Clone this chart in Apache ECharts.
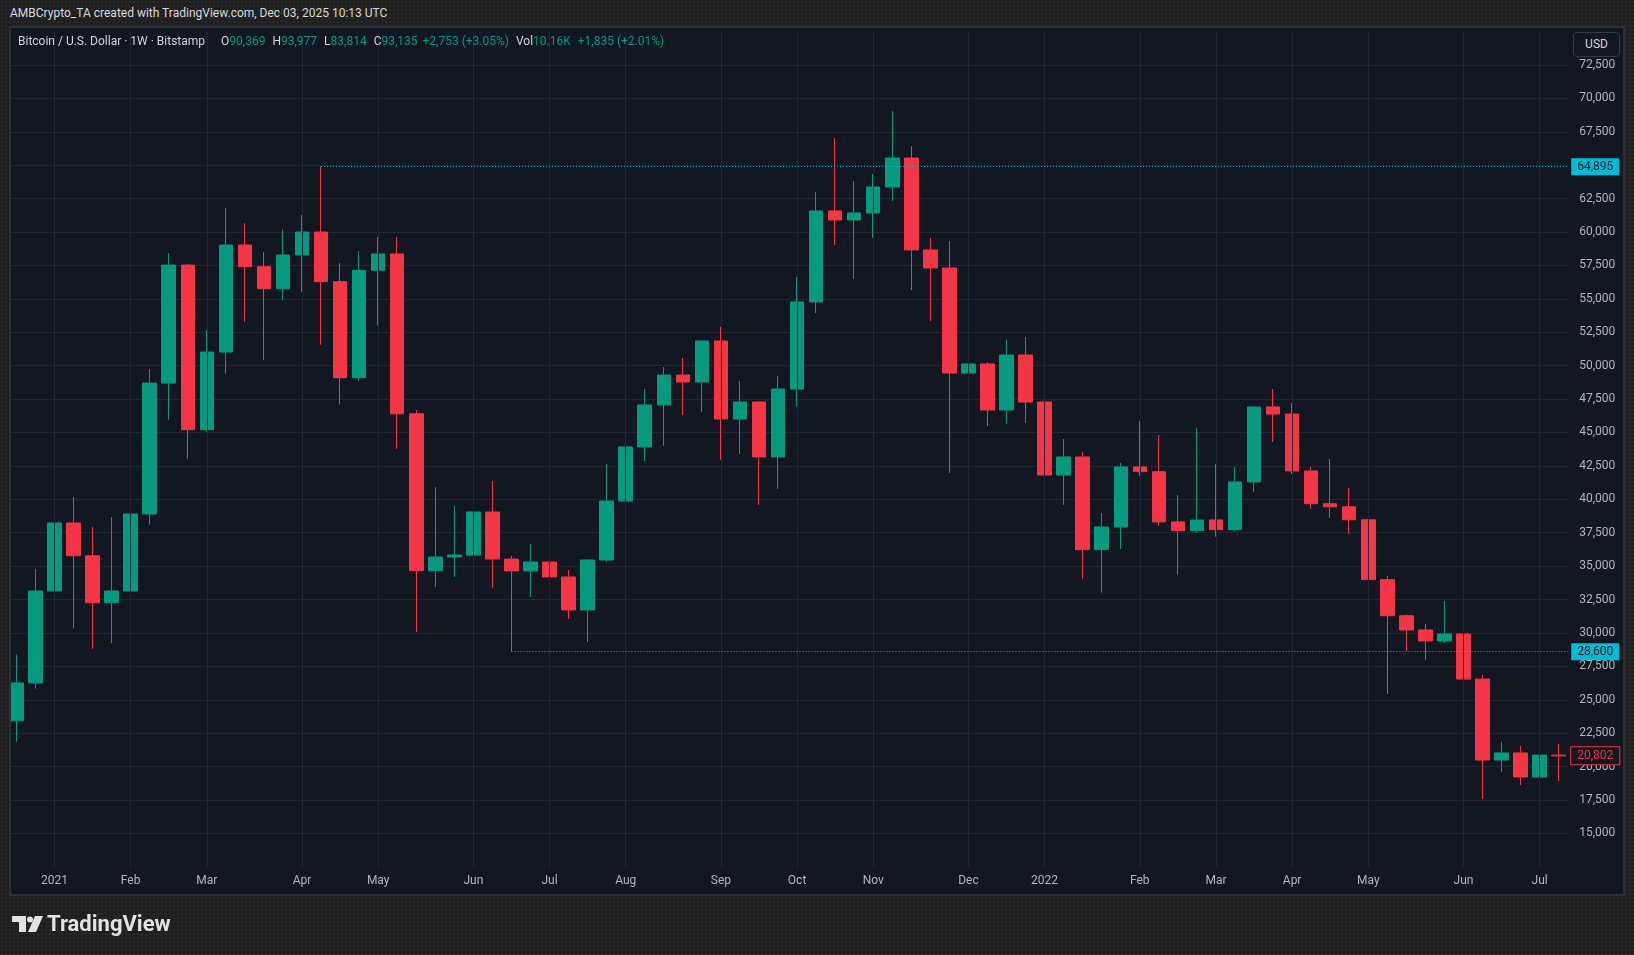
<!DOCTYPE html>
<html>
<head>
<meta charset="utf-8">
<script src="https://cdn.jsdelivr.net/npm/echarts@6/dist/echarts.min.js"></script>
<style>
  body {
    margin: 0; width: 1634px; height: 955px; overflow: hidden; position: relative;
    background-color: #1f1f1f;
    background-image: radial-gradient(rgba(255,255,255,0.05) 0.8px, transparent 0.9px);
    background-size: 4px 4px;
    font-family: Roboto, "Liberation Sans", sans-serif;
  }
  #title { position: absolute; left: 10px; top: 6px; font-size: 12px; color: #d6d8de; white-space: nowrap; }
  #panel { position: absolute; left: 9px; top: 26px; width: 1616px; height: 870px; box-sizing: border-box;
           border: 2px solid #2c2f37; background: #131722; }
  #chart { position: absolute; left: 0; top: 0; width: 1634px; height: 955px; clip-path: inset(0 0 0 11px); }
  #legend { position: absolute; left: 18px; top: 34px; font-size: 12px; color: #d1d4dc; white-space: nowrap; z-index: 5; }
  #legend .g { color: #089981; }
  #legend .sp { margin-left: 7px; }
  #legend .sp0 { margin-left: 16px; }
  #legend .sp1 { margin-left: 5px; }
  #usd { position: absolute; left: 1573px; top: 32px; width: 47px; height: 25px; box-sizing: border-box;
         border: 1px solid #363a45; border-radius: 4px; background: #131722; color: #d1d4dc;
         font-size: 12px; line-height: 23px; text-align: center; z-index: 5; }
  #logo { position: absolute; left: 12px; top: 911px; height: 26px; z-index: 5; }
  #logo svg { position: absolute; left: 0; top: 5px; }
  #logo span { position: absolute; left: 35px; top: 0; font-size: 22px; font-weight: bold; color: #e3e3e3; line-height: 26px; white-space: nowrap; }
</style>
</head>
<body>
<div id="title">AMBCrypto_TA created with TradingView.com, Dec 03, 2025 10:13 UTC</div>
<div id="panel"></div>
<div id="chart"></div>
<div id="legend">Bitcoin / U.S. Dollar · 1W · Bitstamp<span class="sp0">O</span><span class="g">90,369</span><span class="sp">H</span><span class="g">93,977</span><span class="sp">L</span><span class="g">83,814</span><span class="sp">C</span><span class="g">93,135</span><span class="sp1 g">+2,753 (+3.05%)</span><span class="sp">Vol</span><span class="g">10.16K</span><span class="sp g">+1,835 (+2.01%)</span></div>
<div id="usd">USD</div>
<div id="logo">
  <svg width="32" height="16" viewBox="0 0 32 16">
    <polygon points="0,0 14,0 14,16 7,16 7,6 0,6" fill="#e3e3e3"/>
    <circle cx="18" cy="3.5" r="3" fill="#e3e3e3"/>
    <polygon points="23,0 31,0 24,16 16,16" fill="#e3e3e3"/>
  </svg>
  <span>TradingView</span>
</div>
<script>
// weekly candles (week start dates), Bitstamp BTC/USD
var weeks = [
  '2020-12-21','2020-12-28',
  '2021-01-04','2021-01-11','2021-01-18','2021-01-25','2021-02-01','2021-02-08','2021-02-15','2021-02-22',
  '2021-03-01','2021-03-08','2021-03-15','2021-03-22','2021-03-29','2021-04-05','2021-04-12','2021-04-19',
  '2021-04-26','2021-05-03','2021-05-10','2021-05-17','2021-05-24','2021-05-31','2021-06-07','2021-06-14',
  '2021-06-21','2021-06-28','2021-07-05','2021-07-12','2021-07-19','2021-07-26','2021-08-02','2021-08-09',
  '2021-08-16','2021-08-23','2021-08-30','2021-09-06','2021-09-13','2021-09-20','2021-09-27','2021-10-04',
  '2021-10-11','2021-10-18','2021-10-25','2021-11-01','2021-11-08','2021-11-15','2021-11-22','2021-11-29',
  '2021-12-06','2021-12-13','2021-12-20','2021-12-27',
  '2022-01-03','2022-01-10','2022-01-17','2022-01-24','2022-01-31','2022-02-07','2022-02-14','2022-02-21',
  '2022-02-28','2022-03-07','2022-03-14','2022-03-21','2022-03-28','2022-04-04','2022-04-11','2022-04-18',
  '2022-04-25','2022-05-02','2022-05-09','2022-05-16','2022-05-23','2022-05-30','2022-06-06','2022-06-13',
  '2022-06-20','2022-06-27','2022-07-04','2022-07-11'
];

// [open, close, low, high]
var ohlc = [
  [23430, 26260, 21860, 28380], [26260, 33140, 25830, 34790],
  [33140, 38230, 27780, 42040], [38230, 35780, 30320, 40170], [35780, 32260, 28810, 37930], [32260, 33140, 29230, 38680],
  [33140, 38900, 32340, 41070], [38900, 48700, 38100, 49750], [48700, 57530, 45960, 58430], [57530, 45210, 43040, 57610],
  [45210, 51020, 45060, 52670], [51020, 59030, 49400, 61800], [59030, 57410, 53290, 60670], [57410, 55760, 50430, 58510],
  [55760, 58280, 54940, 60160], [58280, 60000, 55540, 61280], [60000, 56290, 51570, 64895], [56290, 49100, 47080, 57680],
  [49100, 57140, 48880, 58580], [57140, 58360, 52990, 59630], [58360, 46400, 43780, 59630], [46400, 34660, 30070, 46680],
  [34660, 35680, 33440, 40920], [35680, 35830, 34190, 39500], [35830, 39050, 31040, 39430], [39050, 35530, 33360, 41370],
  [35530, 34640, 28600, 35760], [34640, 35310, 32690, 36660], [35310, 34190, 32090, 35400], [34190, 31720, 31040, 34710],
  [31720, 35460, 29320, 35500], [35460, 39870, 35310, 42640], [39870, 43920, 37330, 45410], [43920, 47060, 42870, 48260],
  [47060, 49300, 44000, 49900], [49300, 48780, 46310, 50570], [48780, 51850, 46530, 51920], [51850, 46010, 42940, 52900],
  [46010, 47280, 43390, 48850], [47280, 43170, 39580, 47360], [43170, 48250, 40770, 49230], [48250, 54770, 46930, 56640],
  [54770, 61580, 53940, 63000], [61580, 60900, 59030, 67040], [60900, 61430, 56490, 63820], [61430, 63370, 59550, 64340],
  [63370, 65540, 62320, 69060], [65540, 58660, 55660, 66440], [58660, 57310, 53340, 59550], [57310, 49450, 41970, 59330],
  [49450, 50130, 46830, 52000], [50130, 46680, 45490, 50280], [46680, 50800, 45640, 51920], [50800, 47280, 45710, 52150],
  [47280, 41820, 40550, 47660], [41820, 43170, 39580, 44510], [43170, 36230, 34060, 43540], [36230, 37930, 33010, 38980],
  [37930, 42420, 36290, 42720], [42420, 42070, 41750, 45860], [42070, 38310, 38010, 44810], [38310, 37650, 34360, 40320],
  [37650, 38450, 37500, 45340], [38450, 37730, 37200, 42640], [37730, 41300, 37580, 42420], [41300, 46910, 40550, 46980],
  [46910, 46380, 44300, 48260], [46380, 42120, 41890, 47210], [42120, 39670, 39280, 42420], [39670, 39440, 38610, 43020],
  [39440, 38470, 37410, 40850], [38470, 33990, 33760, 40100], [33990, 31290, 25430, 34260], [31290, 30220, 28650, 31400],
  [30220, 29400, 27980, 30670], [29400, 29920, 29250, 32390], [29920, 26550, 26480, 31720], [26550, 20490, 17580, 26850],
  [20490, 21020, 19600, 21840], [21020, 19220, 18620, 21540], [19220, 20860, 19000, 22440], [20860, 20802, 18920, 21690]
];

// time scale labels (first weekly bar of each month)
var monthTicks = {
  '2021-01-04': '2021', '2021-02-01': 'Feb', '2021-03-01': 'Mar', '2021-04-05': 'Apr', '2021-05-03': 'May',
  '2021-06-07': 'Jun', '2021-07-05': 'Jul', '2021-08-02': 'Aug', '2021-09-06': 'Sep', '2021-10-04': 'Oct',
  '2021-11-01': 'Nov', '2021-12-06': 'Dec', '2022-01-03': '2022', '2022-02-07': 'Feb', '2022-03-07': 'Mar',
  '2022-04-04': 'Apr', '2022-05-02': 'May', '2022-06-06': 'Jun', '2022-07-04': 'Jul'
};

// horizontal rays drawn on the chart
var rayStarts = ['2021-04-12', '2021-06-21'];
var rayPrices = [64895, 28600];
var lastPrice = 20802;

var fmt = function (v) { return Number(v).toLocaleString('en-US'); };
var gridColor = '#232733';
var fontFam = 'Roboto, sans-serif';

var myChart = echarts.init(document.getElementById('chart'));

var vLines = [];
weeks.forEach(function (w, i) {
  if (monthTicks[w]) vLines.push({ xAxis: i });
});

var rays = rayPrices.map(function (p, k) {
  return [
    { coord: [weeks.indexOf(rayStarts[k]), p] },
    { coord: [weeks.length - 0.5, p] }
  ];
});

var option = {
  backgroundColor: 'transparent',
  animation: false,
  grid: {
    left: 6.9, right: 65.8, top: 31.6, bottom: 88.2,
    outerBoundsMode: 'none'
  },
  xAxis: [
    {
      type: 'category',
      data: weeks,
      boundaryGap: true,
      axisLine: { show: false },
      axisTick: { show: false },
      splitLine: { show: false },
      axisLabel: {
        interval: function (index, value) { return !!monthTicks[value]; },
        formatter: function (value) { return monthTicks[value] || ''; },
        color: '#b2b5be',
        fontSize: 12,
        fontFamily: fontFam,
        margin: 8
      }
    },
    {
      // hidden index axis, only used to end rays at the price scale
      type: 'value',
      show: false,
      min: -0.5,
      max: weeks.length - 0.5
    }
  ],
  yAxis: {
    type: 'value',
    position: 'right',
    min: 12500,
    max: 75000,
    interval: 2500,
    scale: true,
    axisLine: { show: false },
    axisTick: { show: false },
    splitLine: { show: true, showMinLine: false, showMaxLine: false, lineStyle: { color: gridColor, width: 1 } },
    axisLabel: {
      showMinLabel: false,
      showMaxLabel: false,
      formatter: fmt,
      color: '#b2b5be',
      fontSize: 12,
      fontFamily: fontFam,
      margin: 11
    }
  },
  series: [
    {
      // vertical grid lines at the month labels
      type: 'line',
      data: [],
      z: 1,
      silent: true,
      markLine: {
        silent: true,
        animation: false,
        symbol: ['none', 'none'],
        label: { show: false },
        lineStyle: { color: gridColor, width: 1, type: 'solid' },
        emphasis: { disabled: true },
        data: vLines
      }
    },
    {
      type: 'candlestick',
      data: ohlc,
      barWidth: 14,
      z: 2,
      itemStyle: {
        color: '#089981',
        color0: '#f23645',
        borderColor: '#089981',
        borderColor0: '#f23645',
        borderWidth: 1
      },
      emphasis: { disabled: true }
    },
    {
      type: 'line',
      xAxisIndex: 1,
      data: [],
      z: 3,
      silent: true,
      markLine: {
        silent: true,
        animation: false,
        symbol: ['none', 'none'],
        lineStyle: { color: '#00bcd4', width: 1, type: [1, 2] },
        label: {
          show: true,
          position: 'end',
          distance: 3,
          formatter: function (p) { return fmt(rayPrices[p.dataIndex]); },
          color: '#131722',
          backgroundColor: '#00bcd4',
          padding: [2, 6, 1, 6],
          lineHeight: 14,
          fontSize: 12,
          fontFamily: fontFam
        },
        emphasis: { disabled: true },
        data: rays
      }
    },
    {
      // last price tag on the price scale
      type: 'line',
      xAxisIndex: 1,
      data: [],
      z: 4,
      silent: true,
      markLine: {
        silent: true,
        animation: false,
        symbol: ['none', 'none'],
        lineStyle: { color: 'rgba(0,0,0,0)', width: 0 },
        label: {
          show: true,
          position: 'end',
          distance: 3,
          formatter: function () { return fmt(lastPrice); },
          color: '#f23645',
          backgroundColor: '#131722',
          borderColor: '#f23645',
          borderWidth: 1,
          padding: [2, 6, 1, 6],
          lineHeight: 14,
          fontSize: 12,
          fontFamily: fontFam
        },
        emphasis: { disabled: true },
        data: [{ yAxis: lastPrice }]
      }
    }
  ]
};

myChart.setOption(option);
</script>
</body>
</html>
